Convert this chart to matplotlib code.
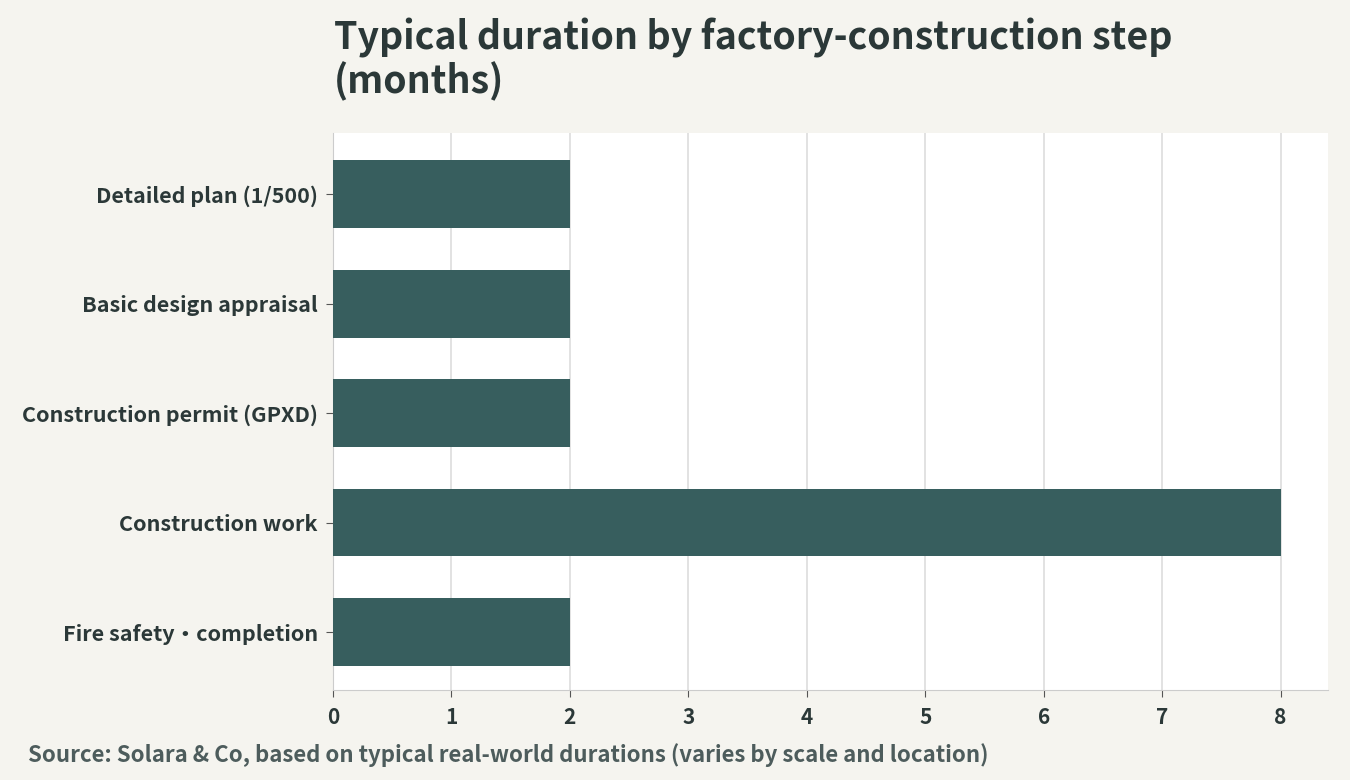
import matplotlib
matplotlib.use("Agg")
import matplotlib.pyplot as plt

steps = ["Detailed plan (1/500)", "Basic design appraisal", "Construction permit (GPXD)",
         "Construction work", "Fire safety・completion"]
months = [2, 2, 2, 8, 2]
xticks = [0, 1, 2, 3, 4, 5, 6, 7, 8]

plt.rcParams['font.family'] = ['Noto Sans CJK JP', 'DejaVu Sans']
bg = "#f5f4ef"; bar = "#375e5e"; txt = "#2b3838"

fig = plt.figure(figsize=(13.5, 7.8), dpi=100, facecolor=bg)
ax = fig.add_axes([333/1350, 1-690/780, (1328-333)/1350, (690-133)/780])
ax.set_facecolor("white")
y = list(range(len(steps)))
ax.barh(y, months, height=0.62, color=bar, zorder=3)
ax.set_yticks(y)
ax.set_yticklabels(steps, fontsize=15.5, fontweight='bold', color=txt)
ax.set_ylim(4.53, -0.56)
ax.set_xlim(0, 8.4)
ax.set_xticks(xticks)
ax.set_xticklabels([str(t) for t in xticks], fontsize=15, fontweight='bold', color=txt)
ax.grid(axis='x', color="#dddddd", lw=1.2, zorder=0)
for s in ['top', 'right']:
    ax.spines[s].set_visible(False)
ax.spines['left'].set_color("#cccccc")
ax.spines['bottom'].set_color("#cccccc")
ax.tick_params(colors="#555555", length=5)
ax.tick_params(axis='y', pad=6)
ax.tick_params(axis='x', pad=7)
for l in ax.get_xticklabels() + ax.get_yticklabels():
    l.set_color(txt)

fig.text(334/1350, 1-18/780, "Typical duration by factory-construction step\n(months)",
         fontsize=27, fontweight='bold', color=txt, va='top', ha='left', linespacing=1.1)
fig.text(28/1350, 1-755/780, "Source: Solara & Co, based on typical real-world durations (varies by scale and location)",
         fontsize=16, fontweight='bold', color="#4d5c5c", va='center', ha='left')
fig.savefig("out.png", dpi=100, facecolor=bg)
